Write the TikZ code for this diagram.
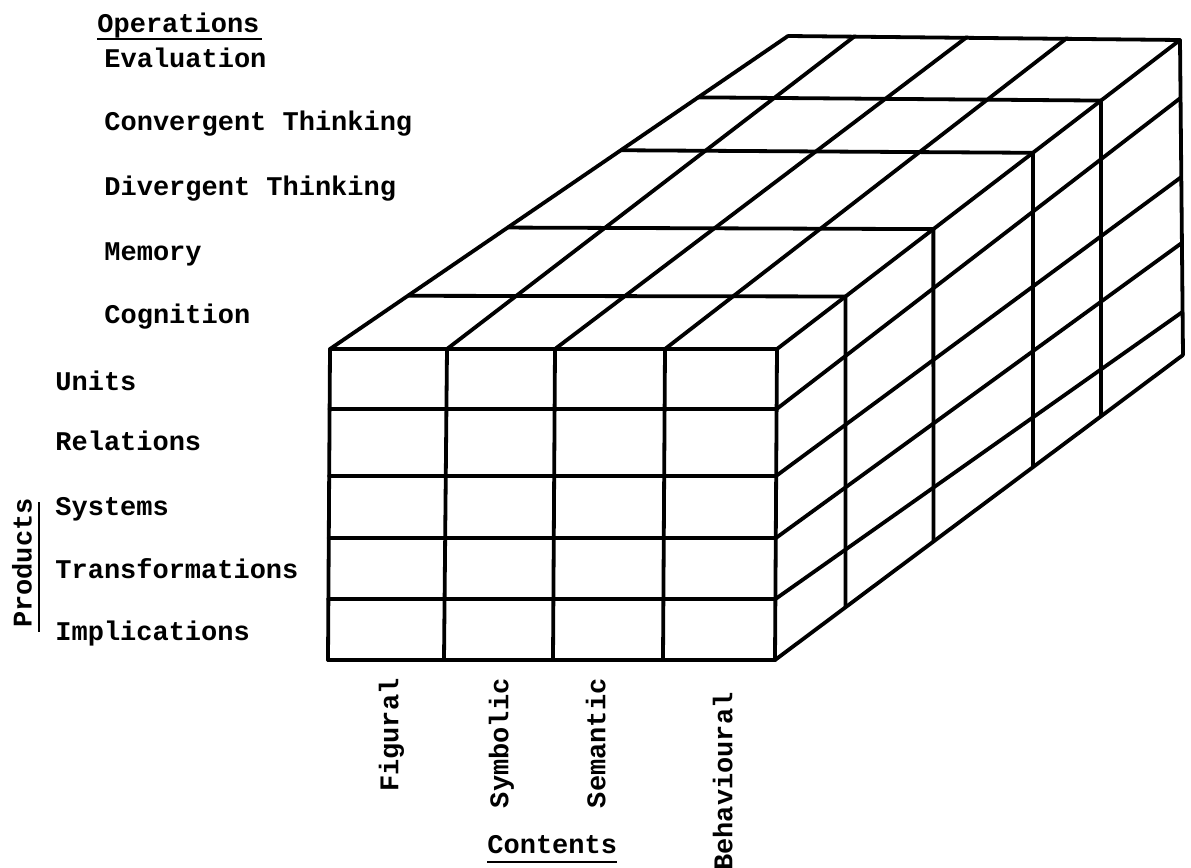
\documentclass[tikz,border=0pt]{standalone}
\usepackage{fontspec}
\setmainfont{Liberation Mono}
\usetikzlibrary{calc}
\begin{document}
\begin{tikzpicture}[x=0.5pt,y=-0.5pt,
  gridline/.style={line width=1.9pt,line cap=round,line join=round},
  thinline/.style={line width=1.1pt},
  lab/.style={font=\fontsize{13.5}{16}\selectfont\bfseries,inner sep=0pt,anchor=base west},
  vlab/.style={font=\fontsize{13.5}{16}\selectfont\bfseries,inner sep=0pt,rotate=90,anchor=mid east}]
\useasboundingbox (0,0) rectangle (1191,868);
% front face corners (top F, bottom G)
\coordinate (F0) at (330,349); \coordinate (G0) at (328,660);
\coordinate (F1) at (447,349); \coordinate (G1) at (444,660);
\coordinate (F2) at (555,349); \coordinate (G2) at (553,660);
\coordinate (F3) at (665,349); \coordinate (G3) at (663,660);
\coordinate (F4) at (777,349); \coordinate (G4) at (775,660);
% back top edge
\coordinate (B0) at (788,36);
\coordinate (B1) at (855,36);
\coordinate (B2) at (967,37);
\coordinate (B3) at (1067,38);
\coordinate (B4) at (1180,40);
\coordinate (BB) at (1183,355);
% front face
\foreach \j in {0,...,4} \draw[gridline] (F\j) -- (G\j);
\foreach \n/\s in {0/0,1/0.193,2/0.408,3/0.608,4/0.804,5/1}
  \draw[gridline] ($(F0)!\s!(G0)$) -- ($(F4)!\s!(G4)$);
% top face
\foreach \j in {0,...,4} \draw[gridline] (F\j) -- (B\j);
\foreach \t in {0.170,0.388,0.635,0.804}
  \draw[gridline] ($(F0)!\t!(B0)$) -- ($(F4)!\t!(B4)$);
\draw[gridline] (B0) -- (B4);
% right face
\draw[gridline] (B4) -- (BB);
\foreach \n/\s/\u in {1/0.193/0.184,2/0.408/0.435,3/0.608/0.644,4/0.804/0.863,5/1/1}
  \draw[gridline] ($(F4)!\s!(G4)$) -- ($(B4)!\u!(BB)$);
\foreach \k/\t in {1/0.170,2/0.388,3/0.635,4/0.804}{
  \coordinate (V\k) at ($(F4)!\t!(B4)$);
  \coordinate (W\k) at ($(V\k)+(0,10)$);
  \coordinate (X\k) at (intersection cs: first line={(V\k)--(W\k)}, second line={(G4)--(BB)});
  \draw[gridline] (V\k) -- (X\k);
}
% operations labels
\node[lab] (ops) at (97,32) {Operations};
\draw[thinline] (97,39) -- (262,39);
\node[lab] (ev) at (104,67) {Evaluation};
\node[lab] (cv) at (104,130) {Convergent Thinking};
\node[lab] (dv) at (104,195) {Divergent Thinking};
\node[lab] (me) at (104,260) {Memory};
\node[lab] (co) at (104,323) {Cognition};
% products labels
\node[lab] (un) at (55,390) {Units};
\node[lab] (re) at (55,450) {Relations};
\node[lab] (sy) at (55,515) {Systems};
\node[lab] (tr) at (55,578) {Transformations};
\node[lab] (im) at (55,640) {Implications};
\node[font=\fontsize{13.5}{16}\selectfont\bfseries,inner sep=0pt,rotate=90] (pr) at (22,563) {Products};
\draw[thinline] (39,502) -- (39,632);
% contents labels
\node[vlab] (fi) at (393,678) {Figural};
\node[vlab] (sb) at (503,678) {Symbolic};
\node[vlab] (se) at (600,678) {Semantic};
\node[vlab] (be) at (727,692) {Behavioural};
\node[lab] (ct) at (487,853) {Contents};
\draw[thinline] (487,862) -- (617,862);
\end{tikzpicture}
\end{document}
